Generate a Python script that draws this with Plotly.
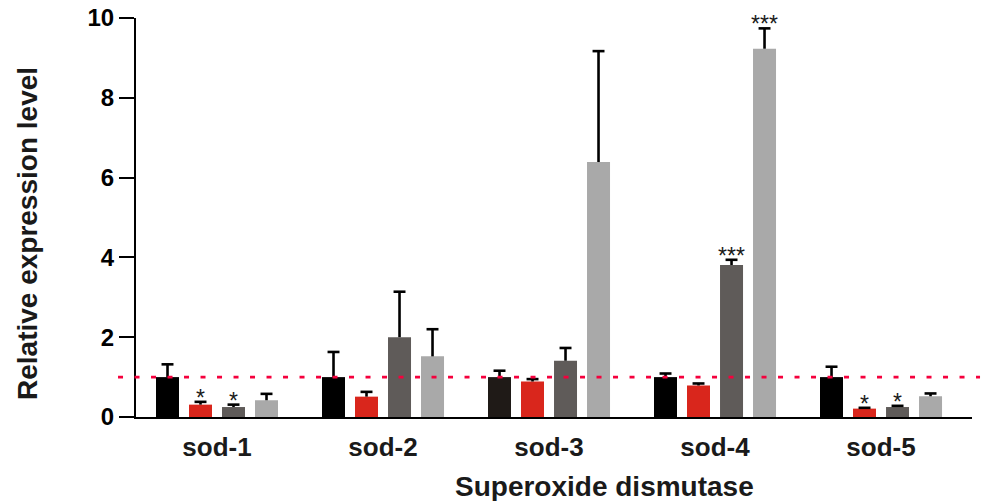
import plotly.graph_objects as go

categories = ["sod-1", "sod-2", "sod-3", "sod-4", "sod-5"]
series_names = ["Control", "T1", "T2", "T3"]
black_vals = [1.0, 1.0, 1.0, 1.0, 1.0]
black_err = [0.32, 0.63, 0.16, 0.09, 0.26]
red_vals = [0.31, 0.51, 0.89, 0.79, 0.21]
red_err = [0.07, 0.12, 0.06, 0.05, 0.02]
dgray_vals = [0.25, 2.0, 1.41, 3.81, 0.25]
dgray_err = [0.06, 1.14, 0.32, 0.13, 0.03]
lgray_vals = [0.42, 1.52, 6.39, 9.23, 0.52]
lgray_err = [0.16, 0.68, 2.78, 0.51, 0.07]
red_sig = ["*", "", "", "", "*"]
dgray_sig = ["*", "", "", "***", "*"]
lgray_sig = ["", "", "", "***", ""]
black_sig = ["", "", "", "", ""]
y_ticks = [0, 2, 4, 6, 8, 10]
reference_level = 1.0

FONT = "Liberation Sans, Arial, sans-serif"
black_colors = ["#000000", "#000000", "#1f1a17", "#000000", "#000000"]
colors = [black_colors, "#d9261c", "#5f5b59", "#a9a9a9"]

all_vals = [black_vals, red_vals, dgray_vals, lgray_vals]
all_err = [black_err, red_err, dgray_err, lgray_err]
all_sig = [black_sig, red_sig, dgray_sig, lgray_sig]

step = 0.1988
offsets = [(k - 1.5) * step for k in range(4)]
bar_w = 0.1386
cap = 0.036

fig = go.Figure()
for k in range(4):
    xs = [i + offsets[k] for i in range(len(categories))]
    fig.add_trace(go.Bar(x=xs, y=all_vals[k], width=bar_w, name=series_names[k],
                         marker=dict(color=colors[k], line=dict(width=0)),
                         showlegend=False))
for k in range(4):
    ex, ey = [], []
    for i in range(len(categories)):
        x = i + offsets[k]
        v = all_vals[k][i]
        t = v + all_err[k][i]
        ex += [x, x, None, x - cap, x + cap, None]
        ey += [v, t, None, t, t, None]
    fig.add_trace(go.Scatter(x=ex, y=ey, mode="lines",
                             line=dict(color="#000000", width=2.6),
                             showlegend=False, hoverinfo="skip"))

annotations = []
for k in range(4):
    for i in range(len(categories)):
        s = all_sig[k][i]
        if s:
            annotations.append(dict(x=i + offsets[k], y=all_vals[k][i] + all_err[k][i],
                                    xref="x", yref="y", text=s, showarrow=False,
                                    yanchor="bottom", yshift=-11,
                                    font=dict(family=FONT, size=23, color="#1a1a1a")))

annotations.append(dict(x=-0.129, y=0.459, xref="paper", yref="paper",
                        text="Relative expression level", textangle=-90,
                        showarrow=False, xanchor="center", yanchor="middle",
                        font=dict(family=FONT, size=28, color="#1a1a1a", weight="bold")))
annotations.append(dict(x=0.5605, y=-0.173, xref="paper", yref="paper",
                        text="Superoxide dismutase", showarrow=False,
                        xanchor="center", yanchor="middle",
                        font=dict(family=FONT, size=28, color="#1a1a1a", weight="bold")))

fig.update_layout(
    width=982, height=501,
    margin=dict(l=136, r=10, t=18, b=84, autoexpand=False),
    plot_bgcolor="white", paper_bgcolor="white",
    barmode="overlay",
    annotations=annotations,
    shapes=[dict(type="line", xref="paper", yref="y", x0=-0.0215, x1=1.0096,
                 y0=reference_level, y1=reference_level, layer="above",
                 line=dict(color="#f5003d", width=2.6, dash="5px,11.5px"))],
)
fig.update_xaxes(range=[-0.488, 4.548], tickvals=list(range(len(categories))),
                 ticktext=categories, showline=True, linecolor="#000000", linewidth=2.2,
                 ticks="outside", ticklen=6, tickcolor="rgba(0,0,0,0)",
                 showgrid=False, zeroline=False,
                 tickfont=dict(family=FONT, size=26, color="#1a1a1a", weight="bold"))
fig.update_yaxes(range=[0, 10], tickvals=y_ticks, showline=True, linecolor="#000000",
                 linewidth=2.2, ticks="outside", ticklen=15, tickwidth=2.2,
                 tickcolor="#000000", showgrid=False, zeroline=False,
                 tickfont=dict(family=FONT, size=24, color="#000000", weight="bold"))

fig.write_html("out.html")
